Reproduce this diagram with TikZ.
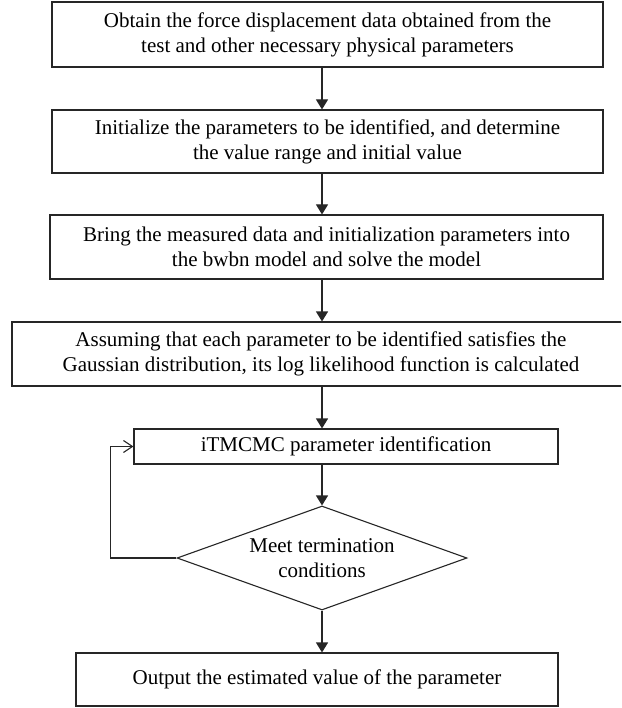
\documentclass[tikz,border=0pt]{standalone}
\usepackage{fontspec}
\setmainfont{Liberation Serif}
\usepackage{tikz}
\usetikzlibrary{arrows.meta, shapes.geometric}
\tikzset{
    flowBox/.style={
        rectangle,
        draw=black!85,
        fill=white,
        line width=1.1pt,
        inner sep=0pt,
        align=center,
        font=\fontsize{21}{25}\selectfont
    },
    decBox/.style={
        diamond,
        draw=black!85,
        fill=white,
        line width=1.1pt,
        inner sep=0pt,
        shape aspect=2.8,
        minimum width=290pt,
        minimum height=104pt,
        align=center,
        font=\fontsize{21}{25}\selectfont
    },
    flowArrow/.style={
        -{Triangle[length=10pt, width=12pt]},
        line width=1.1pt,
        draw=black!85
    },
    loopArrow/.style={
        -{Straight Barb[length=9pt, width=12pt]},
        line width=1.1pt,
        draw=black!85
    }
}

\begin{document}
\begin{tikzpicture}[x=1pt, y=-1pt]

        % Page frame (same size as the reference)
        \useasboundingbox (0, 0) rectangle (621, 708);
        \clip (0, 0) rectangle (621, 708);

        % Process Boxes
        \node[flowBox, minimum width=551pt, minimum height=65pt] (B1) at (327.5, 34.5)
            {Obtain the force displacement data obtained from the\\test and other necessary physical parameters};
        \node[flowBox, minimum width=551pt, minimum height=63pt] (B2) at (327.5, 141.5)
            {Initialize the parameters to be identified, and determine\\the value range and initial value};
        \node[flowBox, minimum width=553pt, minimum height=64pt] (B3) at (326.5, 247)
            {Bring the measured data and initialization parameters into\\the bwbn model and solve the model};
        \node[flowBox, minimum width=618pt, minimum height=64pt] (B4) at (321, 354)
            {Assuming that each parameter to be identified satisfies the\\Gaussian distribution, its log likelihood function is calculated};
        \node[flowBox, minimum width=424pt, minimum height=35pt] (B5) at (346, 446.5)
            {iTMCMC parameter identification};

        % Decision
        \node[decBox] (D) at (322, 558) {Meet termination\\conditions};

        % Output
        \node[flowBox, minimum width=482pt, minimum height=53pt] (B6) at (317, 679.5)
            {Output the estimated value of the parameter};

        % Flow Arrows (all on the axis of the diamond)
        \draw[flowArrow] (B1.south -| D.north) -- (B2.north -| D.north);
        \draw[flowArrow] (B2.south -| D.north) -- (B3.north -| D.north);
        \draw[flowArrow] (B3.south -| D.north) -- (B4.north -| D.north);
        \draw[flowArrow] (B4.south -| D.north) -- (B5.north -| D.north);
        \draw[flowArrow] (B5.south -| D.north) -- (D.north);
        \draw[flowArrow] (D.south) -- (B6.north -| D.south);

        % Loop back when not finished
        \draw[loopArrow] (D.west) -- ++(-66, 0) |- (B5.west);

    \end{tikzpicture}
\end{document}
